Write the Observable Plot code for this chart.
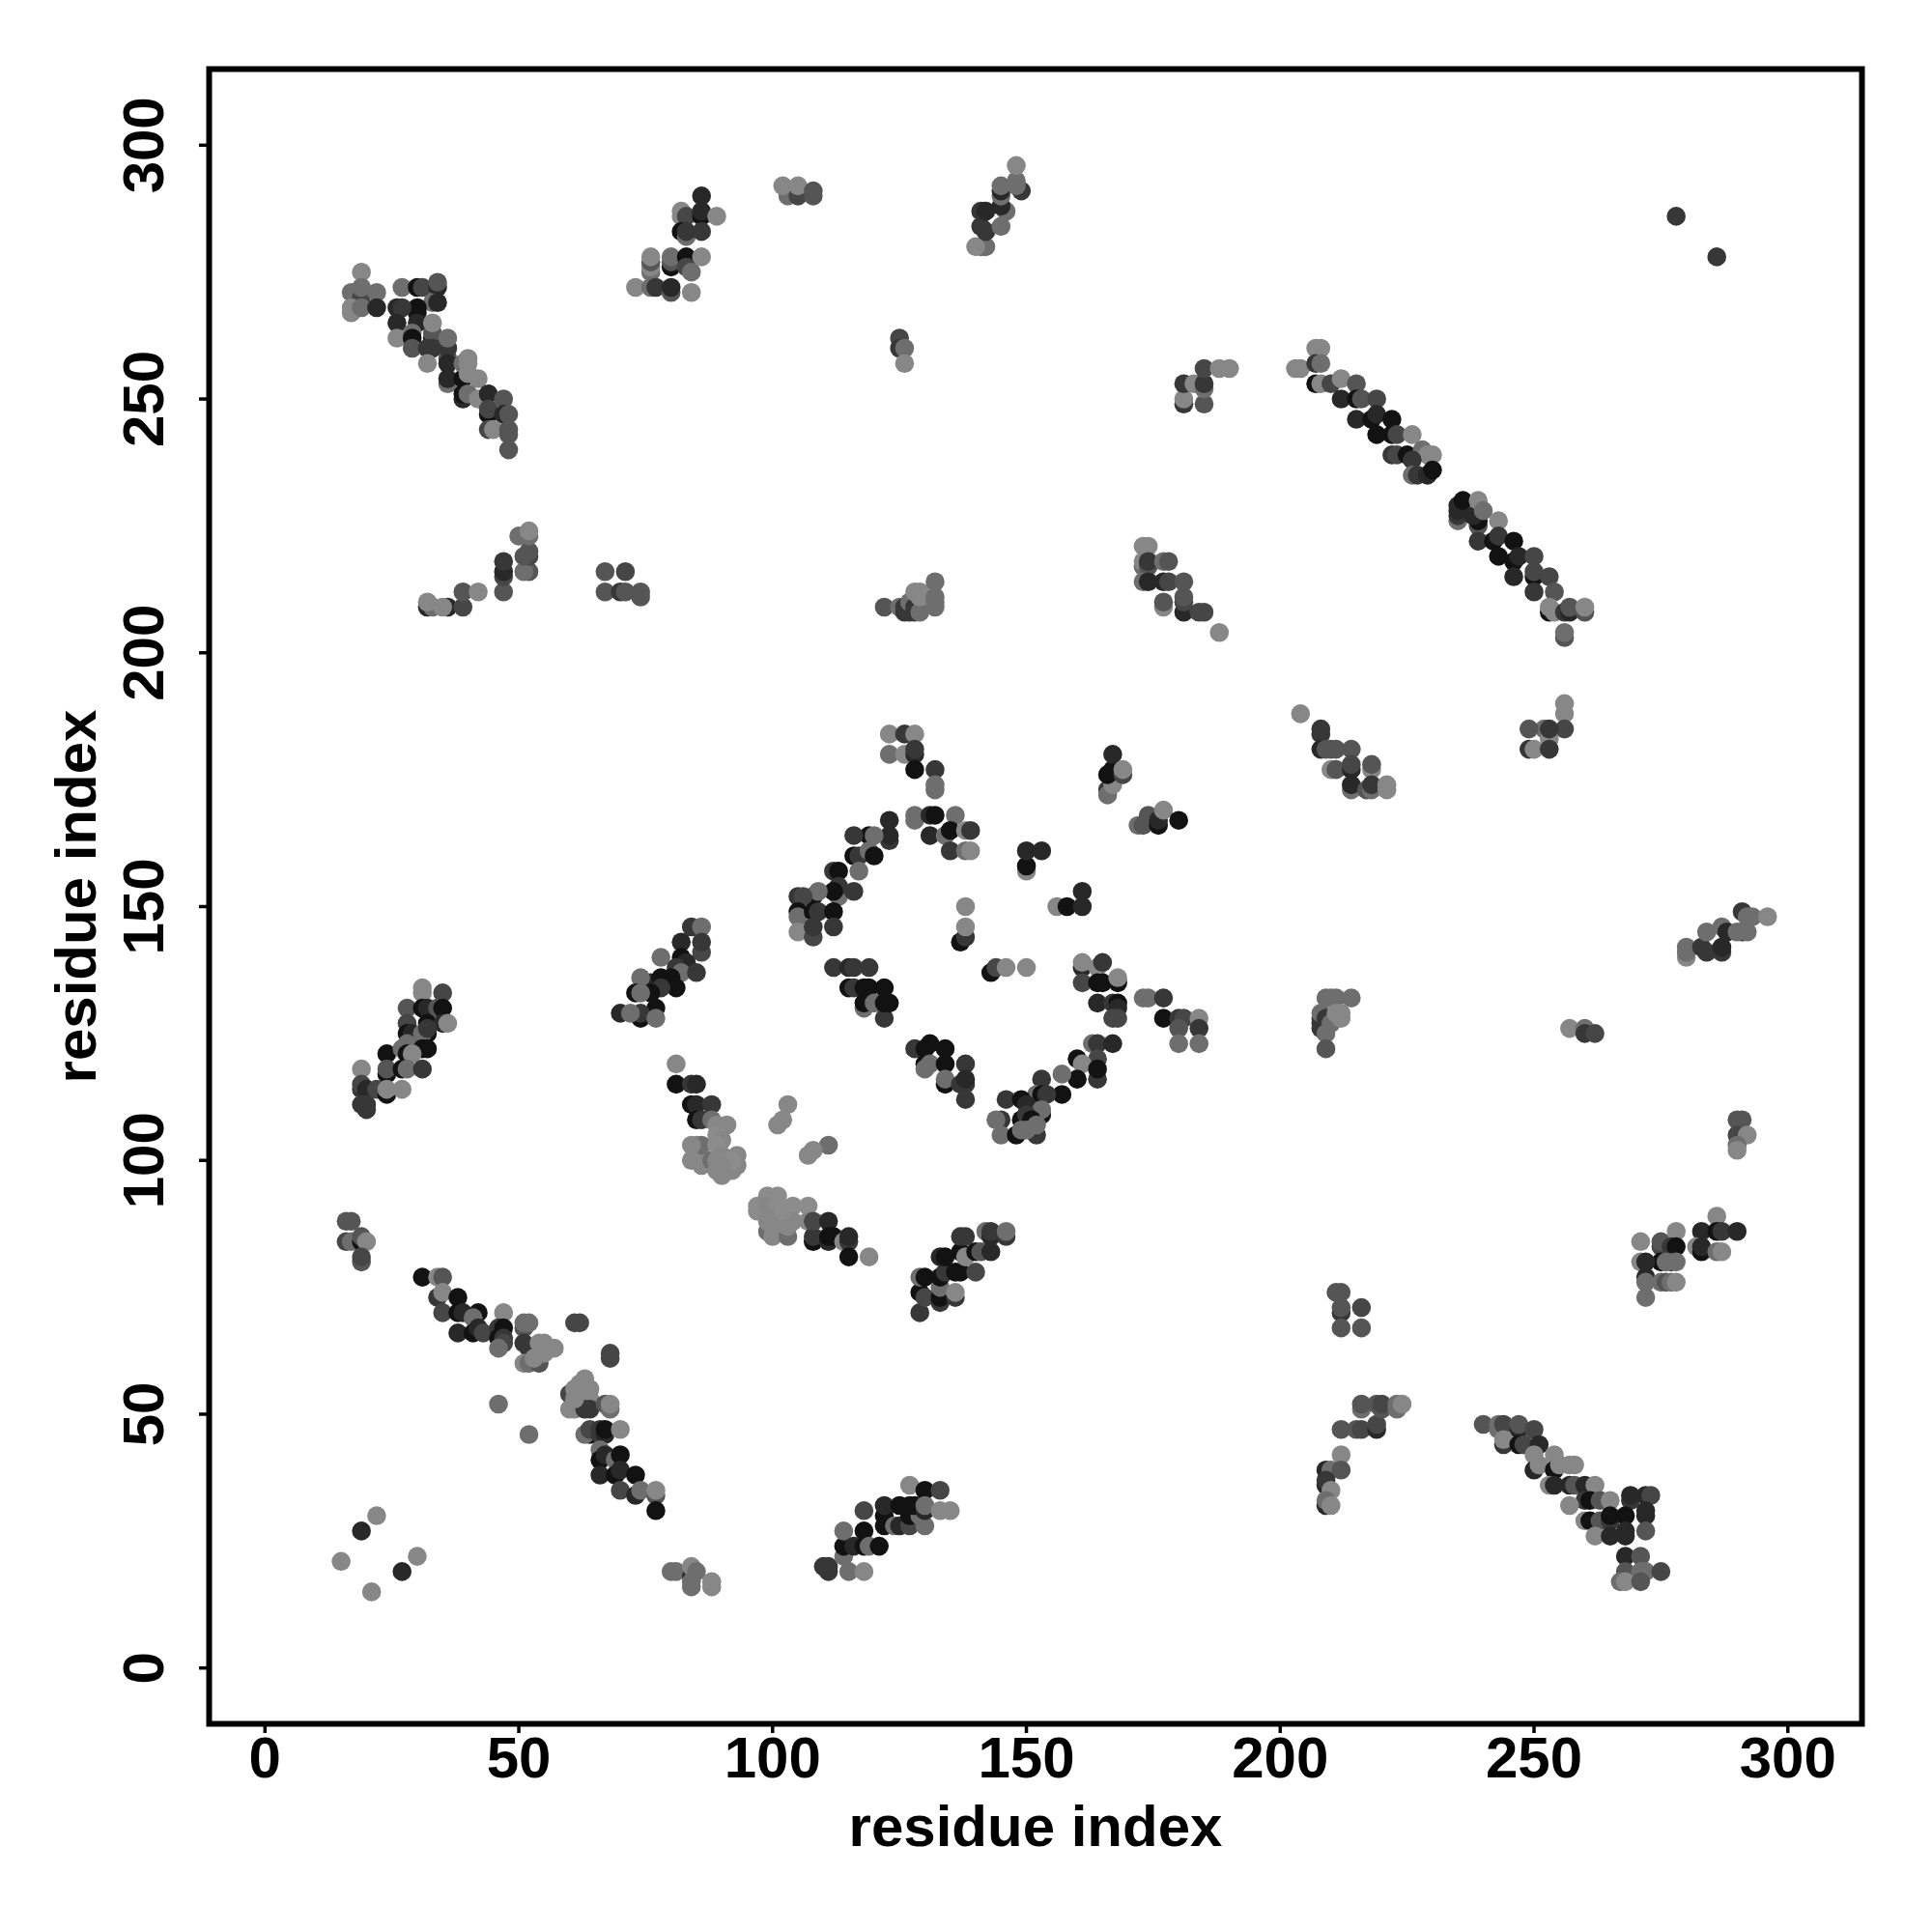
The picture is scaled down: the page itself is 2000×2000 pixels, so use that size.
<!DOCTYPE html>
<html><head><meta charset="utf-8">
<style>html,body{margin:0;padding:0;background:#fff}svg{display:block}</style>
<script src="https://cdn.jsdelivr.net/npm/d3@7"></script>
<script src="https://cdn.jsdelivr.net/npm/@observablehq/plot@0.6"></script>
</head><body><div id="chart"></div>
<script>
const K=18,D=40,E=55,F=70,M=85,L=110,G=135,B=140;
const tickValues=[0,50,100,150,200,250,300];
const axisTitle="residue index";
const topLeft=[[19,275,G],[17,271,L],[19,270,F],[19,272,L],[22,271,L],[17,267,G],[17,268,G],[19,268,L],[22,268,D],[27,272,L],[30,272,K],[31,272,F],[34,272,D],[34,273,M],[33,269,L],[34,269,D],[30,268,K],[30,267,K],[26,268,D],[27,268,E],[26,265,D],[30,265,D],[26,262,G],[29,263,L],[29,262,K],[29,260,M],[33,262,K],[33,263,M],[33,265,G],[32,260,E],[33,260,E],[32,257,G],[36,258,M],[36,260,E],[36,262,L],[36,253,L],[36,254,D],[36,257,D],[39,254,K],[39,257,L],[40,258,G],[40,257,G],[40,255,G],[42,254,G],[39,250,D],[39,251,K],[40,251,L],[42,250,G],[44,251,D],[47,250,M],[44,247,K],[44,248,F],[47,247,D],[48,247,M],[44,244,F],[45,244,G],[48,243,M],[48,244,M],[48,240,M]];
const topCluster=[[86,290,D],[82,287,G],[82,286,G],[83,286,F],[86,286,K],[86,287,D],[89,286,G],[82,283,K],[83,282,L],[83,283,E],[86,283,E],[76,275,L],[76,276,G],[76,277,M],[76,278,G],[80,276,K],[80,277,M],[80,278,L],[83,278,K],[86,278,G],[83,276,F],[84,275,L],[73,272,G],[76,272,L],[77,272,E],[80,271,M],[80,272,D],[84,271,G]];
const upperMid=[[103,290,L],[102,292,G],[105,290,F],[105,292,G],[108,290,M],[108,291,M]];
const upperRightArm=[[142,280,L],[141,280,L],[140,280,G],[141,284,E],[142,283,E],[145,284,L],[141,287,E],[142,287,D],[146,287,L],[145,288,D],[145,290,L],[145,291,D],[145,292,L],[149,291,E],[148,292,L],[148,293,L],[148,296,G]];
const smallTop=[[125,262,F],[125,260,E],[126,260,L],[126,257,G],[278,286,E],[286,278,E]];
const far=[[257,126,G],[260,126,L],[260,125,E],[262,125,F]];
const rightCol=[[290,108,M],[291,108,M],[290,105,F],[292,105,G],[290,103,L],[290,102,G]];
const row210=[[32,209,D],[33,209,L],[32,210,G],[36,209,D],[35,209,G],[39,209,F],[39,212,M],[42,212,G],[47,212,M],[47,215,F],[47,216,D],[47,218,E],[52,216,M],[51,216,L],[52,219,F],[51,219,M],[52,220,M],[50,223,L],[52,223,L],[52,224,G]];
const row212=[[67,212,M],[67,216,M],[70,212,E],[71,212,M],[71,216,F],[74,211,M],[74,212,M]];
const row209=[[122,209,M],[125,209,L],[126,208,E],[126,209,E],[127,208,E],[127,210,L],[128,208,E],[128,209,E],[129,208,L],[129,211,G],[128,212,G],[129,212,G],[132,209,L],[132,210,L],[132,211,L],[132,214,L]];
const nearTop=[[173,221,G],[174,221,G],[173,217,L],[173,218,G],[174,217,M],[174,218,E],[177,218,L],[178,218,M],[173,214,L],[174,214,D],[177,214,D],[178,214,F],[181,214,M],[177,209,G],[177,210,M],[181,208,D],[181,210,F],[181,211,M],[184,208,F],[185,208,F],[188,204,G]];
const nearCorner=[[181,249,E],[181,250,G],[181,253,E],[183,253,G],[185,249,M],[185,252,L],[185,253,E],[185,256,F],[188,256,G],[190,256,G]];
const longDiagA=[[203,256,G],[204,256,G],[207,260,G],[208,260,G],[207,257,E],[208,257,L],[207,253,K],[208,253,G],[210,253,F],[212,254,G],[215,253,M],[212,250,D],[215,250,K],[216,250,M],[219,250,F],[215,246,D],[218,246,K],[219,247,D],[222,246,K],[219,243,K],[222,243,K],[223,243,F],[226,243,G],[222,239,E],[223,239,F],[225,239,K],[228,240,L],[229,239,G],[230,239,G],[226,238,E],[226,235,L],[227,235,E],[229,235,D],[230,236,K]];
const longDiagB=[[235,226,L],[235,227,E],[235,228,D],[235,229,D],[236,230,K],[239,225,M],[239,226,K],[238,227,D],[239,222,E],[239,230,G],[240,228,L],[243,226,G],[242,222,K],[243,223,E],[246,222,K],[243,219,K],[246,218,K],[247,219,D],[250,219,F],[246,215,D],[250,215,K],[250,216,F],[253,215,F],[250,212,E],[254,212,M],[253,208,K],[253,209,G],[254,208,G],[256,208,E],[257,208,D],[257,209,M],[260,208,M],[260,209,G],[256,203,M],[256,204,L]];
const midRightUp=[[204,188,G],[208,184,E],[208,185,E],[208,181,D],[209,181,M],[210,181,M],[211,181,M],[214,181,M],[210,177,G],[211,177,M],[214,177,D],[214,178,F],[218,177,G],[218,178,M],[214,173,L],[214,174,D],[217,173,M],[218,173,L],[218,174,E],[221,173,G],[221,174,G]];
const midRightTop=[[256,188,G],[256,190,G],[256,185,F],[252,185,L],[253,183,G],[253,185,E],[249,185,M],[249,181,E],[250,181,G],[253,181,E]];
const crossTop=[[123,184,G],[126,184,E],[128,184,G],[123,180,L],[126,180,G],[128,180,D],[128,181,E],[128,177,K],[132,177,E],[132,173,L],[132,174,L],[128,167,L],[128,168,L],[131,168,D],[132,168,K],[136,168,L],[131,164,D],[134,164,L],[135,165,K],[138,165,G],[139,165,E],[135,161,E],[138,161,L],[139,161,G]];
const crossLeft=[[123,167,D],[123,163,E],[123,164,D],[119,164,K],[120,164,L],[116,164,E],[116,160,K],[117,160,E],[119,161,L],[120,160,K],[117,157,L],[112,157,E],[113,157,K],[113,152,L],[113,154,E],[116,153,E],[112,153,K],[108,152,K],[109,153,L],[105,152,E],[106,152,F],[105,149,K],[105,148,L],[108,149,K],[109,149,E],[112,149,K],[105,145,G],[108,144,F],[108,146,E],[112,146,E]];
const armLeft=[[84,146,E],[86,146,L],[86,141,F],[86,143,E],[82,143,D],[82,140,K],[78,140,L],[83,139,D],[81,138,E],[82,137,L],[85,137,E],[76,135,D],[78,136,K],[80,136,K],[74,136,L],[81,134,K],[78,134,E],[73,133,K],[76,133,K],[74,133,L],[77,130,K],[74,128,K],[74,129,E],[70,129,D],[72,129,L],[77,128,L]];
const centre=[[137,143,K],[138,144,E],[138,146,G],[138,150,G],[143,137,K],[144,138,F],[146,138,G],[150,138,G],[150,157,G],[150,158,K],[150,161,D],[153,161,D],[156,150,G],[158,150,K],[161,150,D],[161,153,D]];
const crossRight=[[161,138,D],[161,139,G],[161,135,F],[164,138,G],[165,139,E],[164,135,K],[165,135,K],[168,135,K],[168,136,G],[164,131,D],[167,131,E],[168,131,K],[168,130,D],[167,128,F],[168,128,F],[173,132,L],[174,132,L],[177,132,E],[177,128,K],[180,128,E],[181,128,F],[184,128,G],[180,126,M],[184,126,E],[180,123,L],[184,123,L]];
const crossMid=[[112,138,E],[115,138,D],[116,138,E],[119,138,E],[115,134,K],[116,134,E],[118,134,K],[119,134,K],[122,134,K],[118,130,L],[118,131,K],[120,131,L],[122,128,E],[122,131,K],[123,131,K]];
const crossLower=[[128,122,E],[130,122,K],[131,123,K],[134,122,K],[130,119,K],[130,118,L],[131,119,L],[134,119,K],[138,119,E],[134,115,K],[134,116,L],[137,115,E],[138,115,E],[138,116,D],[138,112,E]];
const crossBottom=[[163,123,L],[164,123,E],[167,123,D],[160,120,K],[164,120,F],[161,119,G],[164,116,E],[164,118,K],[160,116,K],[157,117,L],[153,116,E],[157,113,K],[152,113,L],[153,113,K],[154,113,E],[146,112,E],[149,112,K],[150,111,D],[153,109,K],[153,110,L],[149,108,K],[150,109,E],[145,108,E],[144,108,L],[151,108,K],[145,105,L],[148,105,K],[149,106,L],[152,105,E],[150,106,L],[152,107,L]];
const blobLead=[[81,119,G],[81,115,K],[84,115,E],[85,115,D],[84,111,K],[85,111,D],[88,111,E],[85,108,K],[86,108,E],[88,108,L],[89,107,G],[91,107,G]];
const blobUpper=[[85,103,G],[85,100,G],[86,103,L],[84,103,G],[84,100,G],[86,99,G],[88,100,L],[89,105,B],[90,104,G],[89,103,B],[90,101,G],[89,100,G],[90,97,G],[93,101,G],[93,99,G],[89,98,G],[92,98,G],[92,100,B],[90,99,G]];
const sparseBlob=[[103,111,G],[102,108,G],[101,107,G],[111,103,L],[108,102,G],[107,101,G]];
const blobLower=[[99,86,L],[100,85,G],[103,85,L],[103,87,G],[100,87,G],[97,90,B],[97,91,B],[99,93,B],[101,93,B],[99,91,G],[101,91,B],[101,89,G],[104,91,B],[104,88,G],[107,91,B],[107,88,G],[102,88,G],[99,88,G],[102,90,B]];
const blobTail=[[108,84,K],[108,85,E],[108,88,F],[111,88,D],[111,84,D],[111,85,K],[112,85,K],[114,84,G],[115,84,E],[115,85,D],[115,81,K],[119,81,G]];
const lowerArm=[[129,70,E],[129,74,K],[130,73,F],[129,77,L],[130,77,K],[133,72,E],[133,73,K],[133,75,L],[133,77,K],[134,78,E],[133,81,D],[134,81,K],[136,73,E],[136,74,G],[136,78,K],[137,78,K],[140,78,F],[137,82,K],[138,81,G],[140,82,K],[141,82,M],[143,82,D],[137,85,E],[138,85,E],[142,86,L],[143,85,D],[143,86,E],[146,85,E],[146,86,L]];
const topLeftLow=[[31,134,G],[31,133,G],[35,133,F],[28,130,M],[31,130,K],[32,130,D],[34,130,M],[35,130,K],[28,127,F],[32,127,K],[35,127,D],[36,127,G],[28,125,K],[29,125,D],[32,125,K],[31,125,L],[32,126,E],[28,123,L],[31,122,K],[32,122,K],[24,121,K],[27,122,L],[28,121,K],[29,121,G],[24,117,K],[24,118,M],[27,118,K],[28,118,L],[31,118,E],[19,118,G],[19,114,E],[19,115,F],[20,114,D],[22,114,F],[24,113,K],[24,114,G],[27,114,G],[19,111,E],[20,111,E],[20,110,E]];
const lowEnd=[[16,88,M],[17,88,M],[16,84,F],[17,84,L],[19,84,K],[19,85,M],[20,84,G],[19,80,M],[19,81,F]];
const lowDiag=[[31,77,K],[34,77,G],[35,77,M],[34,73,E],[35,74,G],[38,73,K],[35,70,F],[38,70,K],[39,70,D],[42,70,K],[41,69,L],[38,66,D],[41,66,K],[42,67,D],[43,66,F],[47,70,G],[46,67,E],[47,67,K],[46,65,K],[47,65,E],[47,64,F],[46,63,L],[51,67,M],[51,68,L],[52,68,L],[52,63,E],[51,64,E],[51,60,G],[52,60,L],[54,60,M],[54,64,G],[55,64,G],[57,63,G],[53,61,G],[55,62,G],[61,68,F],[62,68,F],[68,61,F],[68,62,F],[46,52,L],[52,46,L]];
const midBlob=[[63,57,G],[62,56,G],[60,54,F],[61,55,G],[64,55,G],[64,53,G],[60,51,G],[61,51,G],[63,51,E],[64,51,E],[61,53,G],[67,52,M],[68,51,L],[68,52,G]];
const lowTail=[[64,46,K],[63,46,L],[64,47,F],[66,47,E],[66,46,E],[67,46,D],[67,47,K],[70,47,G],[66,43,L],[66,41,K],[67,42,D],[69,41,L],[70,42,K],[66,38,D],[69,38,K],[70,39,D],[73,38,K],[70,35,F],[73,34,D],[74,35,L],[77,34,M],[77,35,G],[77,31,K]];
const bottomLeft=[[22,30,G],[19,27,D],[15,21,G],[30,22,G],[27,19,D],[21,15,G]];
const bottomPatch=[[80,19,L],[81,19,L],[84,18,D],[84,20,G],[85,19,L],[84,17,L],[84,16,L],[88,17,G],[88,16,G]];
const bottomArm=[[110,20,E],[111,20,E],[111,19,E],[115,19,L],[118,19,G],[114,22,L],[114,24,K],[114,27,L],[116,24,D],[118,24,K],[118,27,K],[119,24,L],[121,24,K],[118,31,F],[122,30,K],[122,32,D],[122,28,K],[124,28,L],[125,28,D],[127,28,F],[127,30,K],[129,30,L],[130,28,L],[125,32,K],[127,32,K],[128,32,K],[127,36,G],[130,35,K],[133,35,F],[130,31,D],[130,32,L],[133,31,G],[135,31,G]];
const lowRightA=[[212,47,M],[215,47,M],[216,47,F],[219,47,D],[219,48,F],[216,51,L],[216,52,M],[219,52,M],[220,51,M],[220,52,F],[223,51,L],[223,52,L],[224,52,G],[212,42,G],[209,39,D],[210,39,L],[212,39,M],[209,36,D],[209,37,E],[210,35,G],[209,32,D],[209,33,L],[210,32,G]];
const lowRightB=[[212,74,M],[211,74,M],[212,70,E],[212,71,M],[216,71,F],[212,67,M],[216,67,M]];
const lowRightC=[[240,48,M],[243,47,L],[243,48,L],[244,48,F],[247,47,D],[247,48,M],[250,47,F],[244,44,E],[244,45,G],[247,44,K],[248,44,F],[251,44,D],[254,42,G],[250,42,G],[250,39,D],[251,40,G],[254,39,K],[255,40,G],[257,40,G],[258,40,G],[253,36,G],[254,36,D],[257,36,D],[258,36,M],[260,36,D],[262,36,G],[260,33,E],[261,33,K],[257,32,G],[263,33,M],[265,33,G],[260,29,G],[261,29,K],[263,29,M],[265,29,E],[265,30,K],[269,33,E],[269,34,D],[272,34,D],[273,34,F],[272,30,D],[272,31,D],[268,30,K],[272,27,M],[262,26,G],[265,26,D],[268,26,D],[268,27,D],[268,22,D],[271,22,M],[268,19,M],[271,19,L],[272,19,L],[275,19,F],[267,17,L],[268,17,G],[271,17,M]];
const rightLowCluster=[[286,89,G],[283,86,D],[286,86,K],[287,86,E],[290,86,D],[282,83,G],[283,82,K],[283,83,D],[286,82,L],[287,82,G],[271,84,G],[275,83,F],[275,84,M],[278,86,G],[277,83,E],[278,83,K],[275,80,K],[277,80,E],[276,80,L],[278,80,L],[271,80,G],[272,80,D],[272,77,D],[272,76,L],[275,76,L],[276,76,M],[277,76,L],[278,76,G],[272,73,L]];
const rightUpper=[[208,126,E],[208,127,E],[208,128,E],[209,126,E],[208,129,L],[209,128,E],[209,125,L],[209,122,M],[209,132,L],[210,132,L],[211,132,L],[214,132,L],[210,127,L],[211,129,G],[212,128,G],[212,129,G],[280,140,G],[280,141,L],[280,142,L],[283,142,E],[284,141,E],[284,145,L],[287,141,E],[287,142,D],[287,146,L],[288,145,D],[291,145,D],[290,145,L],[292,145,L],[291,149,E],[292,148,L],[293,148,L],[296,148,G]];
const topFar=[[166,173,E],[166,172,L],[167,174,G],[166,176,K],[167,177,K],[167,180,D],[169,176,F],[169,177,G],[172,166,L],[173,166,M],[174,168,M],[176,166,K],[176,167,D],[177,169,G],[180,167,K]];
const groups=[topLeft,topCluster,upperMid,upperRightArm,smallTop,far,rightCol,row210,row212,row209,nearTop,nearCorner,longDiagA,longDiagB,midRightUp,midRightTop,crossTop,crossLeft,armLeft,centre,crossRight,crossMid,crossLower,crossBottom,blobLead,blobUpper,sparseBlob,blobLower,blobTail,lowerArm,topLeftLow,lowEnd,lowDiag,midBlob,lowTail,bottomLeft,bottomPatch,bottomArm,lowRightA,lowRightB,lowRightC,rightLowCluster,rightUpper,topFar];
const contacts=groups.flat().map(([x,y,g])=>({x,y,g}));
const chart=Plot.plot({
  width:2000,height:2000,
  marginLeft:216,marginRight:73,marginTop:71,marginBottom:216,
  style:{fontFamily:"'Liberation Sans',Arial,sans-serif",background:"#fff",color:"#000"},
  x:{domain:[-11,314.6],label:null},
  y:{domain:[-11,315],label:null},
  color:{type:"linear",domain:[0,255],range:["#000","#fff"]},
  marks:[
    Plot.dot(contacts,{x:"x",y:"y",r:9.8,fill:"g",stroke:null}),
    Plot.frame({stroke:"#000",strokeWidth:6}),
    Plot.axisX({ticks:tickValues,tickSize:10,tickPadding:3,strokeWidth:3.5,stroke:"#000",fill:"#000",fontSize:60,fontWeight:"bold",label:axisTitle,labelAnchor:"center",labelArrow:"none",labelOffset:126}),
    Plot.axisY({ticks:tickValues,tickSize:10,tickPadding:38,tickRotate:-90,strokeWidth:3.5,stroke:"#000",fill:"#000",fontSize:60,fontWeight:"bold",textAnchor:"middle",label:axisTitle,labelAnchor:"center",labelArrow:"none",labelOffset:160})
  ]
});
document.getElementById("chart").appendChild(chart);
</script></body></html>
